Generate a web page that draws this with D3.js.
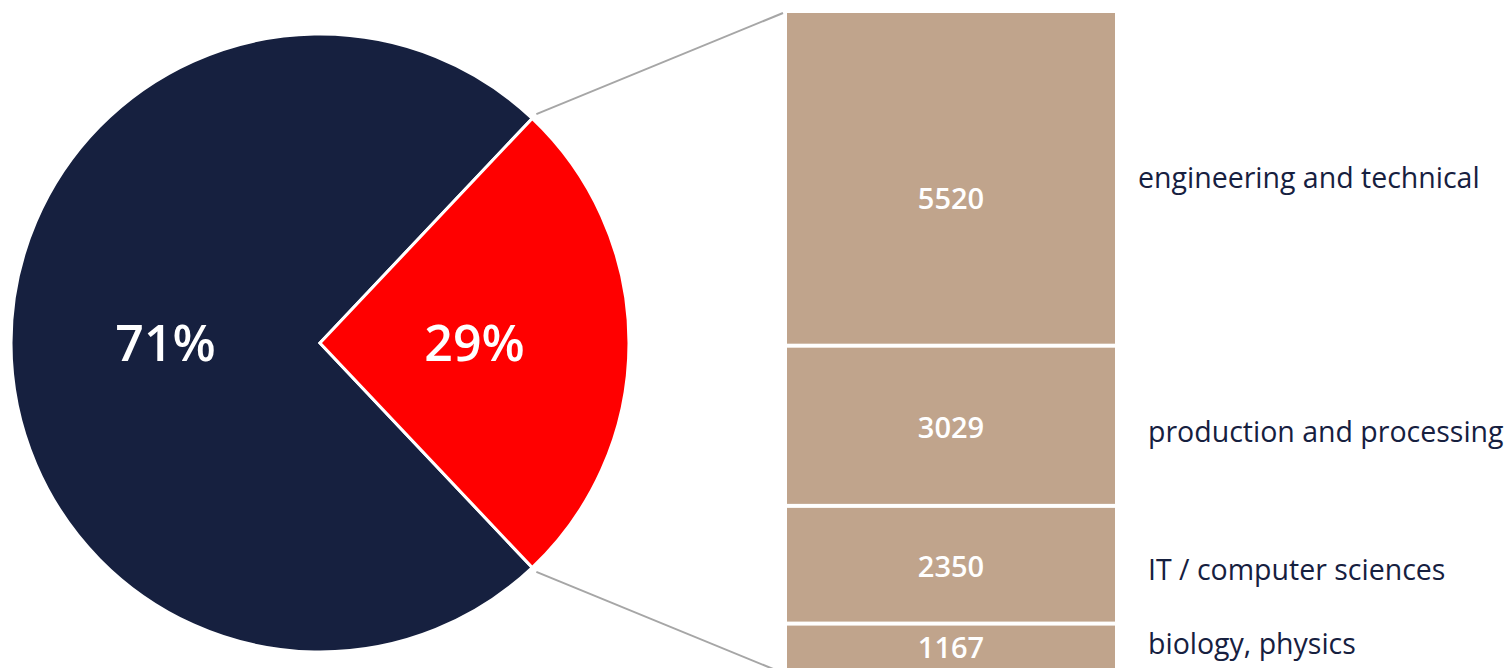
<!DOCTYPE html>
<html>
<head>
<meta charset="utf-8">
<script src="https://cdn.jsdelivr.net/npm/d3@7"></script>
<style>
  html, body { margin: 0; padding: 0; background: #fff; overflow: hidden; }
  svg { display: block; font-family: "Open Sans", sans-serif; }
</style>
</head>
<body>
<script>
// pie: shares as drawn, with their printed labels
var pieNames = ["other", "science and technology"];
var pieShares = [74.1, 25.9];
var pieLabels = ["71%", "29%"];

// breakdown of the red slice
var barCategories = ["engineering and technical", "production and processing", "IT / computer sciences", "biology, physics"];
var barValues = [5520, 3029, 2350, 1167];

var width = 1511;
var height = 668;
var cx = 320, cy = 343, radius = 309;
var pie_colors = ["#16203f", "#ff0000"];
var bar_color = "#c0a48c";
var text_color = "#16203f";

var svg = d3.select("body").append("svg")
    .attr("width", width)
    .attr("height", height);

// red slice centred on 3 o'clock
var red_half = Math.PI * pieShares[1] / d3.sum(pieShares);
var pie = d3.pie()
    .sort(null)
    .startAngle(Math.PI / 2 + red_half)
    .endAngle(Math.PI / 2 + red_half + 2 * Math.PI);
var arcs = pie(pieShares);

var arc = d3.arc().innerRadius(0).outerRadius(radius);

var g_pie = svg.append("g").attr("transform", `translate(${cx},${cy})`);
g_pie.selectAll("path")
    .data(arcs)
    .join("path")
    .attr("d", arc)
    .attr("fill", (d, i) => pie_colors[i])
    .attr("stroke", "#fff")
    .attr("stroke-width", 3)
    .attr("stroke-linejoin", "miter");

g_pie.selectAll("text")
    .data(arcs)
    .join("text")
    .attr("x", d => arc.centroid(d)[0])
    .attr("y", d => arc.centroid(d)[1])
    .attr("dy", "0.36em")
    .attr("text-anchor", "middle")
    .attr("fill", "#fff")
    .style("font-size", "50px")
    .style("font-weight", 600)
    .text((d, i) => pieLabels[i]);

// stacked bar
var bar_x = 787, bar_w = 328, bar_top = 13, bar_bottom = 673, gap = 4;
var avail = bar_bottom - bar_top - gap * (barValues.length - 1);
var pow_sum = d3.sum(barValues, v => Math.pow(v, 1.25));
var vmax = d3.max(barValues);
var h = d3.scalePow().exponent(1.25)
    .domain([0, vmax])
    .range([0, avail * Math.pow(vmax, 1.25) / pow_sum]);

var segs = [];
var y0 = bar_top;
barValues.forEach(function(v, i) {
    segs.push({name: barCategories[i], value: v, y: y0, h: h(v)});
    y0 += h(v) + gap;
});

var cell = svg.append("g")
    .selectAll("g")
    .data(segs)
    .join("g");

cell.append("rect")
    .attr("x", bar_x)
    .attr("y", d => d.y)
    .attr("width", bar_w)
    .attr("height", d => d.h)
    .attr("fill", bar_color);

var value_dy = [20, 2, 2, -2];
cell.append("text")
    .attr("x", bar_x + bar_w / 2)
    .attr("y", (d, i) => d.y + d.h / 2 + value_dy[i])
    .attr("dy", "0.36em")
    .attr("text-anchor", "middle")
    .attr("fill", "#fff")
    .style("font-size", "29px")
    .style("font-weight", 600)
    .text(d => d.value);

var label_x = [1138, 1148, 1148, 1148];
var label_dy = [1, 8, 7, -4];
cell.append("text")
    .attr("x", (d, i) => label_x[i])
    .attr("y", (d, i) => d.y + d.h / 2 + label_dy[i])
    .attr("dy", "0.3em")
    .attr("fill", text_color)
    .style("font-size", "28.5px")
    .text(d => d.name);

// connectors from the red slice edges to the bar corners
var red = arcs[1];
var edge = [red.startAngle, red.endAngle].map(a => [
    cx + (radius + 6) * Math.sin(a),
    cy - (radius + 6) * Math.cos(a)
]);
var ends = [[bar_x - 4, bar_top], [bar_x - 4, bar_bottom]];
svg.append("g")
    .selectAll("line")
    .data(edge)
    .join("line")
    .attr("x1", d => d[0])
    .attr("y1", d => d[1])
    .attr("x2", (d, i) => ends[i][0])
    .attr("y2", (d, i) => ends[i][1])
    .attr("stroke", "#a6a6a6")
    .attr("stroke-width", 2);
</script>
</body>
</html>
